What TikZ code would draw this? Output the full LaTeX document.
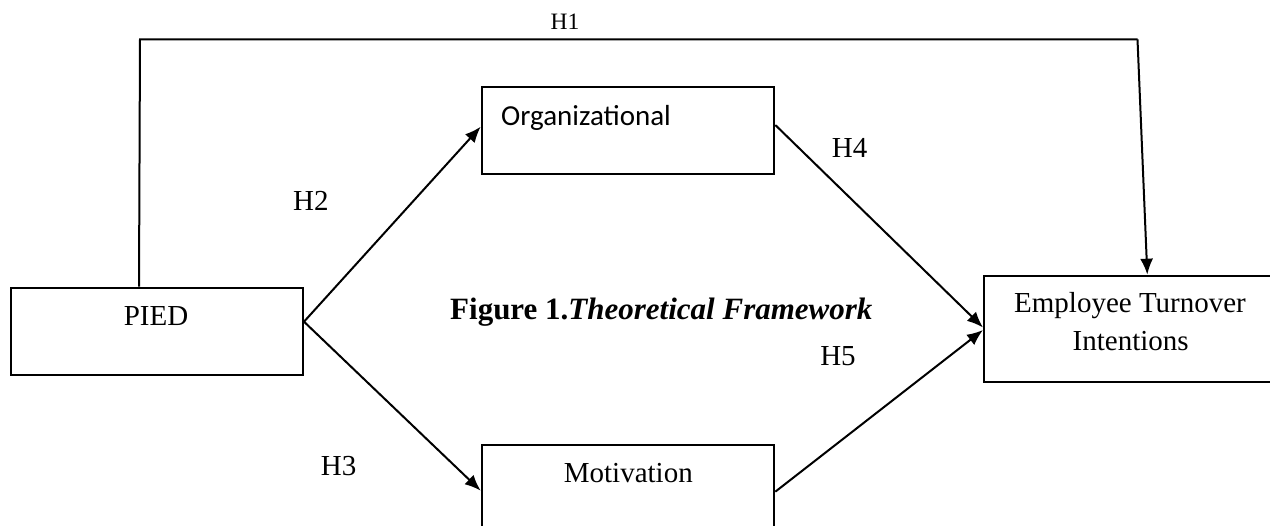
\documentclass[tikz,border=0pt]{standalone}
\usepackage{fontspec}
\setmainfont{Liberation Serif}
\newfontfamily\calibrifont{Carlito}
\usetikzlibrary{arrows.meta}
\begin{document}
\begin{tikzpicture}[x=1pt,y=-1pt,
  box/.style={draw,line width=2pt,inner sep=0pt,minimum width=292.6pt},
  lbl/.style={font=\fontsize{29}{34}\selectfont,inner sep=0pt,anchor=base},
  conn/.style={line width=2pt},
  arr/.style={line width=2pt,-{Latex[length=16pt,width=13pt]}}]
\fill[white] (0,0) rectangle (1270,526);
\useasboundingbox (0,0) rectangle (1270,526);
\clip (0,0) rectangle (1270,526);
% boxes
\node[box,minimum width=292.3pt,minimum height=87.3pt] (pied) at (156.85,331.35) {};
\node[box,minimum height=87pt] (org) at (628,130.8) {};
\node[box,minimum height=87pt] (mot) at (628,488.5) {};
\node[box,minimum width=292pt,minimum height=106.6pt] (et) at (1130,329) {};
% texts
\node[lbl] (tpied) at (156,325.5) {PIED};
\node[lbl,anchor=base west,font=\calibrifont\fontsize{29}{34}\selectfont] (torg) at (501,125.7) {Organizational};
\node[lbl] (tmot) at (628.3,482.7) {Motivation};
\node[lbl] (tet1) at (1130,313) {Employee Turnover};
\node[lbl] (tet2) at (1130.7,351) {Intentions};
\node[lbl,anchor=base west,font=\fontsize{31}{36}\selectfont] (cap) at (450,320) {\textbf{Figure 1.}\textbf{\textit{Theoretical Framework}}};
\node[lbl,font=\fontsize{23.5}{28}\selectfont] (h1) at (565,30) {H1};
\node[lbl] (h2) at (310.8,210.7) {H2};
\node[lbl] (h3) at (338.7,476) {H3};
\node[lbl] (h4) at (849.7,157.5) {H4};
\node[lbl] (h5) at (838,366) {H5};
% connectors
\coordinate (tl) at (140,39.3);
\coordinate (tr) at (1137.5,39.3);
\coordinate (pr) at ([yshift=9.65pt]pied.east);
\draw[conn] ([xshift=129.3pt]pied.north west) -- (tl) -- (tr);
\draw[arr] (tr) -- ([xshift=17.3pt]et.north);
\draw[arr] (pr) -- ([yshift=4.1pt]org.west);
\draw[arr] (pr) -- ([yshift=-2.2pt]mot.west);
\draw[arr] ([yshift=5.8pt]org.east) -- ([yshift=1.5pt]et.west);
\draw[arr] ([yshift=-3.2pt]mot.east) -- ([yshift=-1pt]et.west);
\end{tikzpicture}
\end{document}
